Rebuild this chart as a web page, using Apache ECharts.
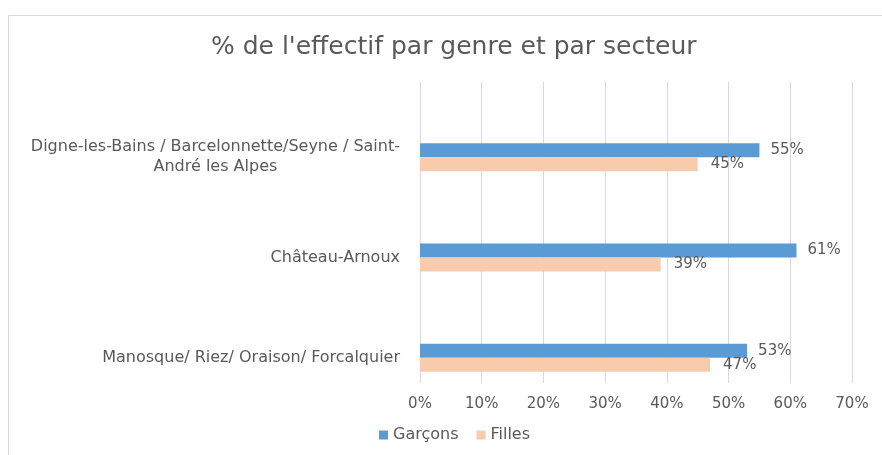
<!DOCTYPE html>
<html><head><meta charset="utf-8">
<script src="https://cdn.jsdelivr.net/npm/echarts@6/dist/echarts.min.js"></script>
<style>html,body{margin:0;padding:0;background:#fff}#c{width:882px;height:455px}</style>
</head><body><div id="c"></div>
<script>
const title = "% de l'effectif par genre et par secteur";
const categories = ["Manosque/ Riez/ Oraison/ Forcalquier", "Château-Arnoux", "Digne-les-Bains / Barcelonnette/Seyne / Saint-\nAndré les Alpes"];
const seriesNames = ["Garçons", "Filles"];
const garcons = [53, 61, 55];
const filles = [47, 39, 45];
const xTicks = [0, 10, 20, 30, 40, 50, 60, 70];

const font = "'DejaVu Sans', 'Open Sans', sans-serif";
const txt = '#595959';
const chart = echarts.init(document.getElementById('c'), null, {renderer: 'canvas'});
chart.setOption({
  backgroundColor: '#fff',
  animation: false,
  title: {text: title, left: 206, top: 30, textStyle: {fontFamily: font, fontSize: 25, fontWeight: 'normal', color: txt}},
  graphic: [{type: 'rect', shape: {x: 8.5, y: 15.5, width: 900, height: 460}, style: {fill: 'none', stroke: '#d9d9d9', lineWidth: 1}, silent: true}],
  legend: {data: seriesNames, bottom: 7, left: 374, itemWidth: 9, itemHeight: 9, itemGap: 18,
    textStyle: {fontFamily: font, fontSize: 16, color: txt}, icon: 'rect'},
  grid: [
    {left: 420, right: 30, top: 107, bottom: 47},
    {left: 420, right: 30, top: 82, bottom: 72}
  ],
  xAxis: [
    {gridIndex: 0, type: 'value', min: 0, max: 70, interval: 10, show: false},
    {gridIndex: 1, type: 'value', min: 0, max: 70, interval: 10,
      axisLine: {show: false}, axisTick: {show: false},
      splitLine: {lineStyle: {color: '#d9d9d9', width: 1}},
      axisLabel: {margin: 14, fontFamily: font, fontSize: 15, color: txt,
        formatter: function(v){ return xTicks.indexOf(v) >= 0 ? v + '%' : ''; }}}
  ],
  yAxis: [
    {gridIndex: 0, type: 'category', data: categories,
      axisLine: {show: false}, axisTick: {show: false},
      axisLabel: {margin: 20, fontFamily: font, fontSize: 16, color: txt, lineHeight: 20,
        formatter: function(v){
          const parts = v.split('\n');
          if (parts.length === 1) return v;
          return '{a|' + parts[0] + '}\n{b|' + parts[1] + '}';
        },
        rich: {a: {fontFamily: font, fontSize: 16, color: txt, lineHeight: 20, align: 'right'},
               b: {fontFamily: font, fontSize: 16, color: txt, lineHeight: 20, align: 'center'}}}},
    {gridIndex: 1, type: 'category', data: categories, show: false}
  ],
  series: [
    {name: seriesNames[0], type: 'bar', xAxisIndex: 0, yAxisIndex: 0, data: garcons, barWidth: 14, barGap: '0%',
      itemStyle: {color: '#5b9bd5'},
      label: {show: true, position: 'right', distance: 11, formatter: '{c}%', fontFamily: font, fontSize: 15, color: txt}},
    {name: seriesNames[1], type: 'bar', xAxisIndex: 0, yAxisIndex: 0, data: filles, barWidth: 14, barGap: '0%',
      itemStyle: {color: '#f8cbad'},
      label: {show: true, position: 'right', distance: 13, formatter: '{c}%', fontFamily: font, fontSize: 15, color: txt}}
  ]
});
</script></body></html>
